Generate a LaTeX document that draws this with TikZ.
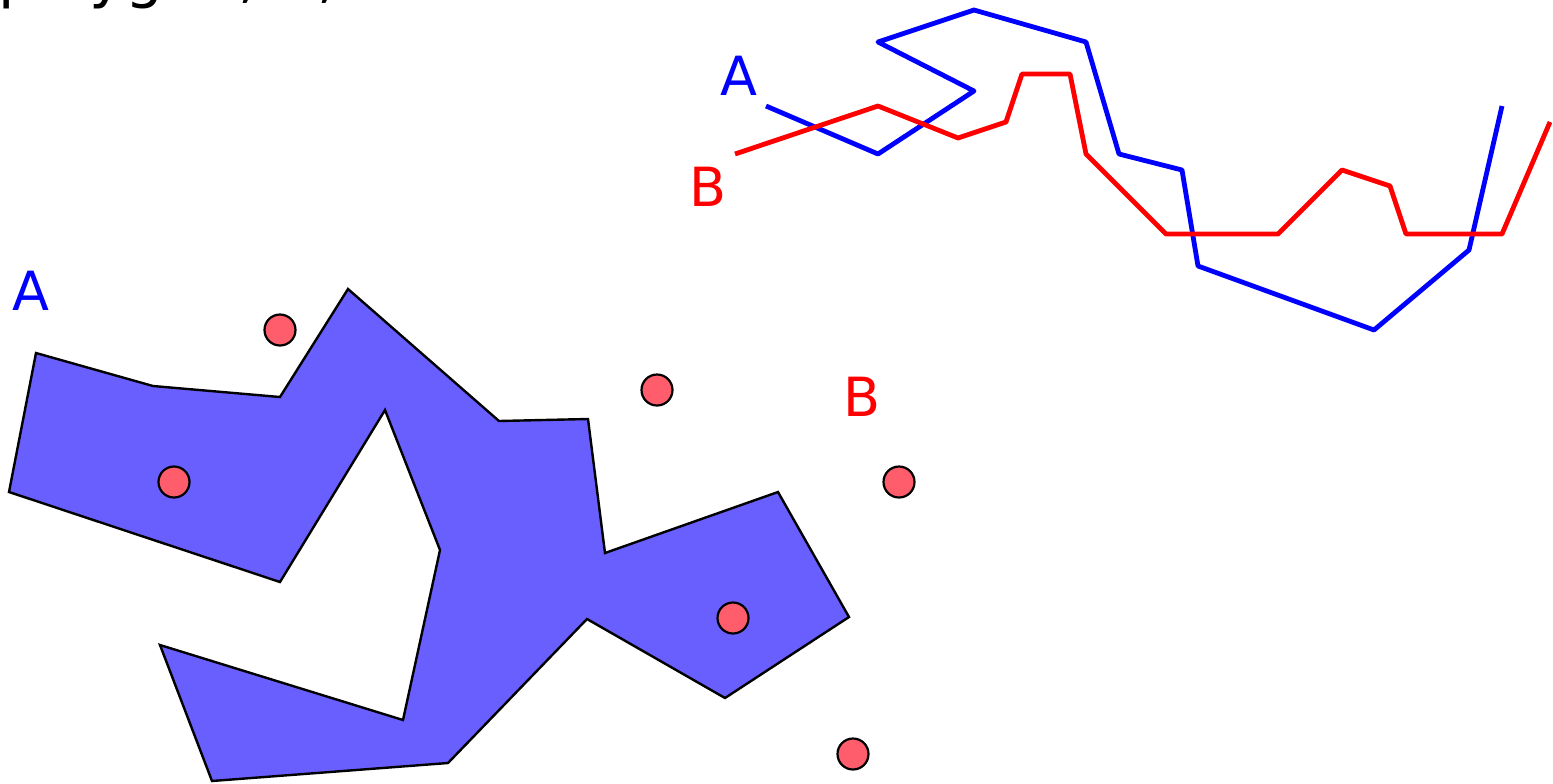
\documentclass[tikz,border=0pt]{standalone}
\usepackage{fontspec}
\setmainfont{DejaVu Sans}
\definecolor{polyfill}{RGB}{105,95,255}
\definecolor{ptfill}{RGB}{255,92,108}
\begin{document}
\begin{tikzpicture}[x=0.5pt,y=-0.5pt,
  pathA/.style={draw=blue,line width=2.4pt,line join=round},
  pathB/.style={draw=red,line width=2.4pt,line join=round},
  region/.style={draw=black,fill=polyfill,line width=1.2pt,line join=miter},
  pt/.style={circle,draw=black,fill=ptfill,line width=1.1pt,minimum size=15.5pt,inner sep=0pt},
  lblA/.style={text=blue,font=\fontsize{27}{30}\selectfont,inner sep=0pt},
  lblB/.style={text=red,font=\fontsize{27}{30}\selectfont,inner sep=0pt}]
\useasboundingbox (0,0) rectangle (1553,783);
% title (cut off at top)
\node[anchor=base west,inner sep=0pt,font=\fontsize{30}{34}\selectfont] (title) at (-2,-4) {polygon, A, B};
% polygon
\path[region] (36,353) -- (153,386) -- (280,397) -- (348,289) -- (499,421) -- (588,419)
  -- (605,553) -- (778,492) -- (849,617) -- (725,698) -- (587,619) -- (448,763)
  -- (212,781) -- (160,645) -- (403,720) -- (440,550) -- (385,410) -- (280,582)
  -- (9,492) -- cycle;
% points
\node[pt] (p1) at (280,330) {};
\node[pt] (p2) at (657,390) {};
\node[pt] (p3) at (174,482) {};
\node[pt] (p4) at (899,482) {};
\node[pt] (p5) at (733,618) {};
\node[pt] (p6) at (853,754) {};
% labels
\node[lblA] (la1) at (31,291) {A};
\node[lblB] (lb1) at (862,397) {B};
\node[lblA] (la2) at (739,76) {A};
\node[lblB] (lb2) at (708,187) {B};
% paths
\path[pathA] (766,106) -- (878,154) -- (974,91) -- (878,42) -- (974,10) -- (1086,42)
  -- (1119,154) -- (1182,170) -- (1198,266) -- (1374,330) -- (1469,250) -- (1502,106);
\path[pathB] (735,154) -- (878,106) -- (958,138) -- (1006,122) -- (1022,74) -- (1070,74)
  -- (1086,154) -- (1166,234) -- (1278,234) -- (1342,170) -- (1390,186) -- (1406,234)
  -- (1502,234) -- (1550,122);
\end{tikzpicture}
\end{document}
